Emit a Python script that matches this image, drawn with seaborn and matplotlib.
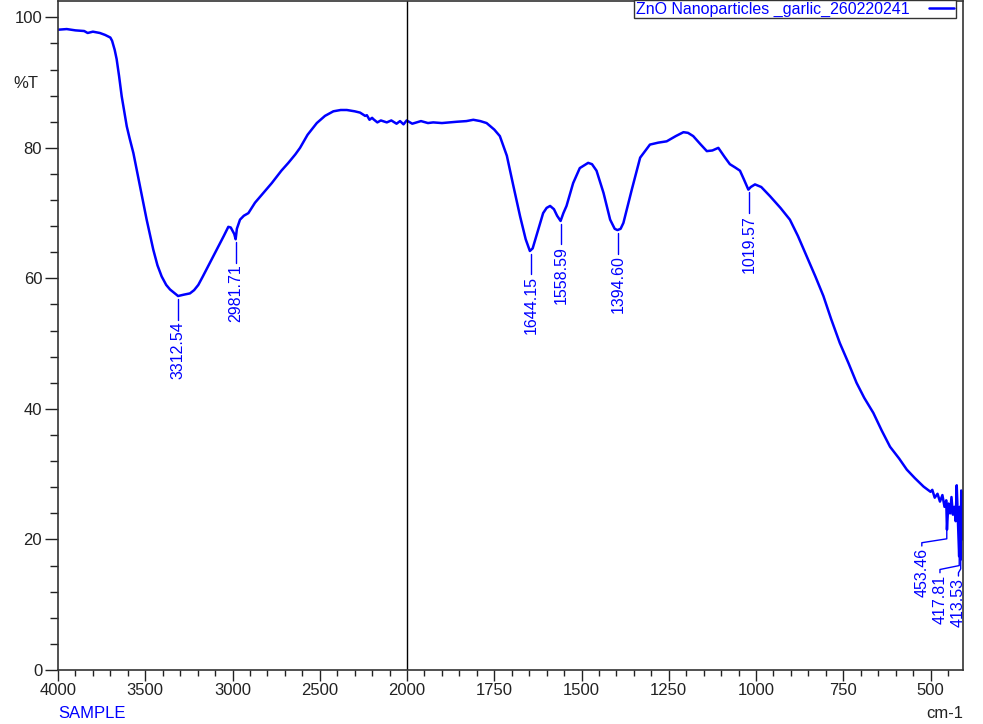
#espectro FTIR de nanoparticulas de ZnO (ajo), escala partida en 2000 cm-1
import numpy as np
import pandas as pd
import matplotlib
matplotlib.use('Agg')
import matplotlib.pyplot as plt
import seaborn as sns

#numero de onda (cm-1) y transmitancia (%T)
wavenumber = [4000, 3950, 3900, 3850, 3830, 3800, 3760, 3730, 3700, 3690, 3675, 3664,
              3650, 3635, 3620, 3606, 3590, 3568, 3550, 3530, 3510, 3492, 3470, 3454,
              3430, 3406, 3380, 3358, 3330, 3312, 3280, 3244, 3220, 3196, 3170, 3139,
              3110, 3081, 3050, 3024, 3010, 3000, 2990, 2982, 2975, 2957, 2935, 2909,
              2890, 2871, 2820, 2775, 2720, 2680, 2640, 2613, 2570, 2517, 2470, 2422,
              2380, 2345, 2300, 2269, 2240, 2230, 2215, 2200, 2193, 2170, 2150, 2116,
              2090, 2060, 2040, 2020, 2002, 1985, 1960, 1940, 1925, 1900, 1857, 1830,
              1810, 1790, 1772, 1750, 1734, 1714, 1695, 1676, 1660, 1648, 1640, 1624,
              1610, 1600, 1590, 1579, 1570, 1560, 1552, 1543, 1524, 1505, 1481, 1470,
              1457, 1437, 1418, 1405, 1397, 1388, 1380, 1356, 1332, 1304, 1280, 1256,
              1230, 1208, 1195, 1180, 1160, 1141, 1125, 1108, 1090, 1075, 1060, 1046,
              1035, 1022, 1015, 1003, 985, 960, 930, 903, 880, 855, 830, 807,
              785, 760, 735, 712, 690, 664, 640, 616, 590, 568, 545, 520,
              500, 495, 488, 480, 473, 466, 460, 455, 453, 449, 444, 440,
              436, 432, 428, 425, 422, 420, 418, 416, 415, 413.5, 412, 410,
              408, 407]
transmittance = [98.1, 98.2, 98.0, 97.9, 97.6, 97.8, 97.6, 97.3, 96.9, 96.4, 95.0, 93.6,
                 91.0, 87.9, 85.5, 83.3, 81.5, 79.2, 76.8, 74.1, 71.5, 69.0, 66.3, 64.4,
                 62.0, 60.3, 59.0, 58.3, 57.7, 57.3, 57.5, 57.7, 58.2, 59.0, 60.3, 61.9,
                 63.4, 64.9, 66.5, 67.9, 67.8, 67.3, 66.8, 66.0, 67.6, 69.0, 69.6, 70.0,
                 70.8, 71.6, 73.2, 74.6, 76.5, 77.7, 79.0, 80.0, 82.0, 83.8, 84.9, 85.6,
                 85.8, 85.8, 85.6, 85.4, 84.9, 85.0, 84.3, 84.6, 84.4, 83.9, 84.2, 83.9,
                 84.2, 83.7, 84.1, 83.6, 84.2, 83.7, 84.1, 83.8, 83.9, 83.8, 84.0, 84.1,
                 84.3, 84.1, 83.8, 82.8, 81.8, 78.8, 74.1, 69.5, 66.0, 64.2, 64.6, 67.5,
                 70.0, 70.8, 71.1, 70.6, 69.6, 68.8, 70.0, 71.1, 74.6, 76.9, 77.7, 77.5,
                 76.5, 73.1, 69.0, 67.6, 67.4, 67.6, 68.5, 73.6, 78.5, 80.5, 80.8, 81.0,
                 81.8, 82.4, 82.3, 81.8, 80.6, 79.5, 79.6, 80.0, 78.6, 77.5, 77.0, 76.5,
                 75.2, 73.6, 74.0, 74.4, 74.0, 72.6, 70.8, 69.0, 66.5, 63.4, 60.3, 57.3,
                 53.8, 50.1, 47.0, 44.0, 41.7, 39.4, 36.7, 34.2, 32.4, 30.7, 29.4, 28.1,
                 27.3, 27.6, 26.4, 27.0, 25.8, 26.8, 25.0, 26.0, 21.5, 25.5, 24.0, 26.5,
                 23.8, 25.0, 22.8, 28.3, 23.5, 20.5, 17.4, 25.0, 17.5, 16.9, 27.5, 20.0,
                 26.0, 22.0]

#picos marcados
peaks = [3312.54, 2981.71, 1644.15, 1558.59, 1394.60, 1019.57]
peak_T = [57.3, 66.0, 64.2, 68.8, 67.4, 73.6]

#picos de la zona final, con etiquetas desplazadas
low_peaks = [453.46, 417.81, 413.53]
low_peak_T = [21.5, 17.4, 16.9]
low_label_x = [525, 473, 420]

series_name = 'ZnO Nanoparticles _garlic_260220241'
blue = '#0000ff'

df = pd.DataFrame({'cm-1': wavenumber, '%T': transmittance})

sns.set_theme(style='ticks')
plt.rcParams['font.family'] = ['Liberation Sans', 'DejaVu Sans']

fig = plt.figure(figsize=(9.83, 7.24), dpi=100)
ax = fig.add_axes([58/983, 1-670/724, 905/983, 669/724])

#escala partida: por encima de 2000 la mitad de ancho
def fwd(x):
    x = np.asarray(x, dtype=float)
    return np.where(x > 2000, 2000 + (x - 2000) / 2, x)

def inv(u):
    u = np.asarray(u, dtype=float)
    return np.where(u > 2000, 2000 + (u - 2000) * 2, u)

ax.set_xscale('function', functions=(fwd, inv))

sns.lineplot(data=df, x='cm-1', y='%T', color=blue, lw=1.8, ax=ax,
             label=series_name, sort=False)
ax.axvline(2000, color='black', lw=1)

ax.set_xlim(4000, 407)
ax.set_ylim(0, 102.5)

major_x = [4000, 3500, 3000, 2500, 2000, 1750, 1500, 1250, 1000, 750, 500]
minor_x = list(range(4000, 2000, -100)) + list(range(2000, 400, -50))
ax.set_xticks(major_x)
ax.set_xticklabels([str(v) for v in major_x])
ax.set_xticks(minor_x, minor=True)
ax.set_yticks([0, 20, 40, 60, 80, 100])
ax.set_yticks(np.arange(0, 101, 4), minor=True)
ax.set_xlabel('')
ax.set_ylabel('')

ax.tick_params(axis='both', which='both', direction='out', colors='#222222',
               labelsize=12, width=1)
ax.tick_params(axis='y', which='major', length=9.4, pad=2)
ax.tick_params(axis='y', which='minor', length=5.8)
ax.tick_params(axis='x', which='major', length=8, pad=1.5)
ax.tick_params(axis='x', which='minor', length=4.3)
for s in ax.spines.values():
    s.set_color('#333333')
    s.set_linewidth(1.2)

#etiquetas de los picos
for p, t in zip(peaks, peak_T):
    ax.plot([p, p], [t - 0.4, t - 3.6], color=blue, lw=1)
    ax.text(p, t - 3.9, f'{p:.2f}', rotation=90, ha='center', va='top',
            color=blue, fontsize=11.5)

for p, t, lx in zip(low_peaks, low_peak_T, low_label_x):
    ax.plot([p, p, lx, lx], [t, t - 1.4, t - 2.0, t - 2.5], color=blue, lw=1)
    ax.text(lx, t - 2.8, f'{p:.2f}', rotation=90, ha='center', va='top',
            color=blue, fontsize=11.5)

leg = ax.legend(loc='upper right', bbox_to_anchor=(0.992, 1.0015), borderaxespad=0,
                frameon=True, fancybox=False, framealpha=1, edgecolor='#333333',
                markerfirst=False, fontsize=11.5, borderpad=0.1, handlelength=1.6,
                handletextpad=1.2, labelcolor=blue)
leg.get_frame().set_linewidth(1)

fig.text(13/983, 1-83/724, '%T', ha='left', va='center', fontsize=12, color='#222222')
fig.text(58/983, 1-713/724, 'SAMPLE', ha='left', va='center', fontsize=12, color=blue)
fig.text(963/983, 1-713/724, 'cm-1', ha='right', va='center', fontsize=12, color='#222222')

fig.savefig('out.png', dpi=100)
